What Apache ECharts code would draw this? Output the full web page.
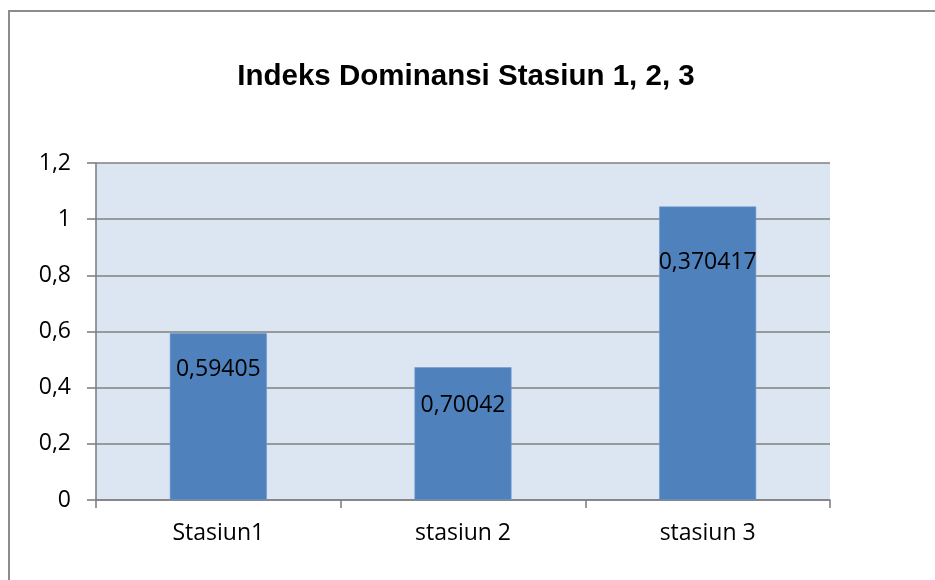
<!DOCTYPE html>
<html>
<head>
<meta charset="utf-8">
<script src="https://cdn.jsdelivr.net/npm/echarts@6/dist/echarts.min.js"></script>
<style>
html,body{margin:0;padding:0;background:#fff;}
#chart{width:935px;height:580px;}
</style>
</head>
<body>
<div id="chart"></div>
<script>
const titleText = 'Indeks Dominansi Stasiun 1, 2, 3';
const categories = ['Stasiun1', 'stasiun 2', 'stasiun 3'];
const barValues = [0.594, 0.4725, 1.045];
const barLabels = ['0,59405', '0,70042', '0,370417'];
const yTicks = [0, 0.2, 0.4, 0.6, 0.8, 1, 1.2];

const labelDistance = [25, 27, 44];

const chart = echarts.init(document.getElementById('chart'), null, {renderer: 'canvas'});
const font = '"Open Sans", "Noto Sans", sans-serif';

chart.setOption({
  animation: false,
  backgroundColor: '#ffffff',
  title: {
    text: titleText,
    left: 461,
    top: 57,
    textAlign: 'center',
    textStyle: {fontFamily: '"Liberation Sans", Arial, sans-serif', fontWeight: 'bold', fontSize: 29.5, color: '#000'}
  },
  graphic: [{
    type: 'rect',
    shape: {x: 9, y: 11, width: 940, height: 580},
    style: {fill: 'none', stroke: '#8c8c8c', lineWidth: 2},
    silent: true, z: 0
  }],
  grid: {
    left: 96, right: 105, top: 163, bottom: 80,
    show: true, backgroundColor: '#dce6f2', borderWidth: 0
  },
  xAxis: {
    type: 'category',
    data: categories,
    axisLine: {show: true, lineStyle: {color: '#808080', width: 1.6}},
    axisTick: {show: true, alignWithLabel: false, length: 8, lineStyle: {color: '#808080', width: 1.6}},
    axisLabel: {fontFamily: font, fontSize: 23, color: '#000', margin: 22},
    splitLine: {show: false}
  },
  yAxis: {
    type: 'value',
    min: yTicks[0],
    max: yTicks[yTicks.length - 1],
    interval: 0.2,
    axisLine: {show: true, lineStyle: {color: '#808080', width: 1.6}},
    axisTick: {show: true, length: 9, lineStyle: {color: '#808080', width: 1.6}},
    axisLabel: {
      fontFamily: font, fontSize: 23, color: '#000', margin: 25,
      formatter: v => String(Math.round(v * 10) / 10).replace('.', ',')
    },
    splitLine: {show: true, lineStyle: {color: '#808080', width: 1.6}}
  },
  series: [{
    type: 'bar',
    barWidth: 97,
    data: barValues.map((v, i) => ({
      value: v,
      label: {distance: labelDistance[i]}
    })),
    itemStyle: {color: '#4f81bd', borderColor: '#6f98cc', borderWidth: 0.6},
    label: {
      show: true,
      position: 'insideTop',
      fontFamily: font, fontSize: 23, color: '#000',
      formatter: p => barLabels[p.dataIndex]
    }
  }]
});
</script>
</body>
</html>
